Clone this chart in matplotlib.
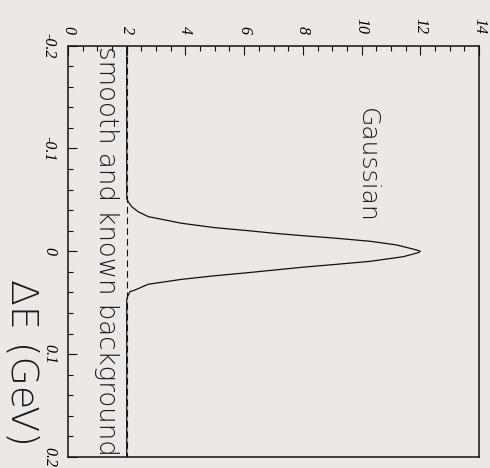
import matplotlib
matplotlib.use("Agg")
import matplotlib.pyplot as plt
from matplotlib.ticker import MultipleLocator, FixedLocator, FixedFormatter

plt.rcParams["lines.scale_dashes"] = False

# Signal shape: energy difference (GeV) and yield
delta_e = [-0.200, -0.056, -0.0515, -0.0482, -0.0433, -0.0384, -0.0336, -0.0272,
           -0.0229, -0.0200, -0.0174, -0.0151, -0.0126, -0.0097, -0.0061, -0.0012,
           0.0000, 0.0014, 0.0053, 0.0098, 0.0127, 0.0155, 0.0182, 0.0208,
           0.0238, 0.0273, 0.0321, 0.0377, 0.0393, 0.0440, 0.0474, 0.0580, 0.200]
signal = [2.00, 2.00, 2.00, 2.05, 2.17, 2.39, 2.74, 3.87,
          5.01, 6.14, 7.05, 8.01, 9.15, 10.29, 11.20, 11.88,
          12.00, 11.93, 11.42, 10.29, 9.15, 8.00, 7.05, 6.14,
          5.01, 3.87, 2.73, 2.28, 2.11, 2.03, 2.00, 2.00, 2.00]

# Flat background level
bkg_delta_e = [-0.2, 0.2]
bkg_level = [2.0, 2.0]

value_ticks = [0, 2, 4, 6, 8, 10, 12, 14]
value_labels = ["0", "2", "4", "6", "8", "10", "12", "14"]
de_ticks = [-0.2, -0.1, 0.0, 0.1, 0.2]
de_labels = ["-0.2", "-0.1", "0", "0.1", "0.2"]

bg = "#ece8e6"
ink = "#111111"
text_ink = "#1a1a1a"
serif = ["Liberation Serif", "DejaVu Serif"]
sans = ["DejaVu Sans"]

fig = plt.figure(figsize=(4.9, 4.68), dpi=100, facecolor=bg)
ax = fig.add_axes([68 / 490, 1 - 457 / 468, 411 / 490, 411.5 / 468], facecolor=bg)

# The plot is laid out turned on its side: yield runs across, energy runs down
ax.plot(bkg_level, bkg_delta_e, color=ink, lw=0.8, dashes=(4.8, 2.9))
ax.plot(signal, delta_e, color=ink, lw=0.9)

ax.set_xlim(0, 14)
ax.set_ylim(0.2, -0.2)

ax.xaxis.set_major_locator(FixedLocator(value_ticks))
ax.xaxis.set_major_formatter(FixedFormatter(value_labels))
ax.xaxis.set_minor_locator(MultipleLocator(0.5))
ax.yaxis.set_major_locator(FixedLocator(de_ticks))
ax.yaxis.set_major_formatter(FixedFormatter(de_labels))
ax.yaxis.set_minor_locator(MultipleLocator(0.02))

ax.tick_params(which="both", direction="in", top=True, bottom=False,
               left=True, right=False, labeltop=True, labelbottom=False,
               color=ink, width=0.8)
ax.tick_params(which="major", length=6.5, pad=8)
ax.tick_params(which="minor", length=3.6)

for lab in ax.get_xticklabels():
    lab.set_rotation(-90)
    lab.set_fontfamily(serif)
    lab.set_fontstyle("italic")
    lab.set_fontsize(11.5)
    lab.set_ha("center")
    lab.set_va("bottom")
for lab in ax.get_yticklabels():
    lab.set_rotation(-90)
    lab.set_fontfamily(serif)
    lab.set_fontstyle("italic")
    lab.set_fontsize(11.5)
    lab.set_ha("right")
    lab.set_va("center")

for sp in ax.spines.values():
    sp.set_color(ink)
    sp.set_linewidth(1.1)

ax.text(1.3, 0.0, "smooth and known background", rotation=-90,
        ha="center", va="center", fontsize=18.7, family=sans, fontweight=200,
        color=text_ink)
ax.text(10.18, -0.083, "Gaussian", rotation=-90,
        ha="center", va="center", fontsize=18, family=sans, fontweight=200,
        color=text_ink)

fig.text(22 / 490, 1 - 362 / 468, "ΔE (GeV)", rotation=-90,
         ha="center", va="center", fontsize=27.3, family=sans, fontweight=200,
         color=text_ink)

fig.savefig("out.png", dpi=100, facecolor=bg)
